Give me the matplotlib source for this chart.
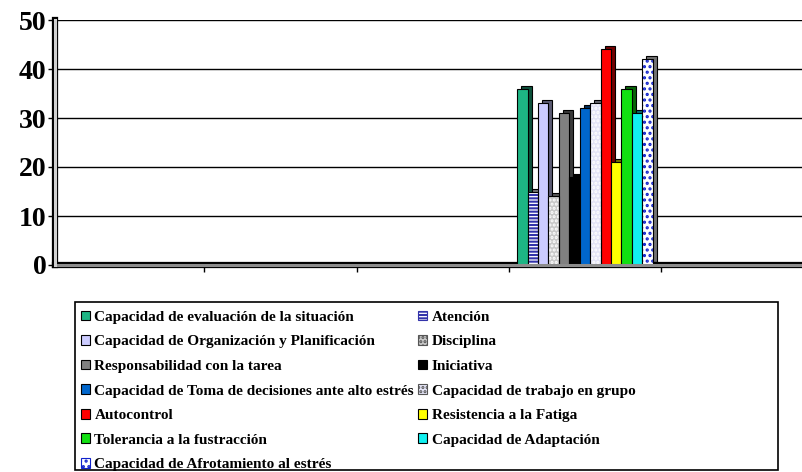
import numpy as np
import matplotlib
matplotlib.use("Agg")
import matplotlib.pyplot as plt
import matplotlib.colors as mcolors
from matplotlib.patches import Patch, Rectangle
from matplotlib.transforms import ScaledTranslation

# datos
etiquetas = [
    "Capacidad de evaluación de la situación",
    "Atención",
    "Capacidad de Organización y Planificación",
    "Disciplina",
    "Responsabilidad con la tarea",
    "Iniciativa",
    "Capacidad de Toma de decisiones ante alto estrés",
    "Capacidad de trabajo en grupo",
    "Autocontrol",
    "Resistencia a la Fatiga",
    "Tolerancia a la fustracción",
    "Capacidad de Adaptación",
    "Capacidad de Afrotamiento al estrés",
]
valores = [36, 15, 33, 14, 31, 18, 32, 33, 44, 21, 36, 31, 42]
categorias = [1, 2, 3, 4, 5]
cat_con_datos = 3  # solo la cuarta categoría tiene barras

colores = ["#1DB584", "#FFFFFF", "#CCCCFF", "#C8C8C8", "#808080", "#000000",
           "#0066CC", "#E4E4F6", "#FF0000", "#FFFF00", "#11E011", "#11F0F0",
           "#FFFFFF"]
tramas = [None, "-----", None, "....", None, None, None, "....", None, None,
          None, None, "..."]
color_trama = [None, "#3333AA", None, "#FFFFFF", None, None, None, "#FFFFFF",
               None, None, None, None, "#1122CC"]

plt.rcParams["font.family"] = ["Liberation Serif", "DejaVu Serif"]
plt.rcParams["font.weight"] = "bold"
plt.rcParams["hatch.linewidth"] = 1.5

fig = plt.figure(figsize=(8.02, 4.72), dpi=100)
ax = fig.add_axes([55 / 802, 207 / 472, 747 / 802, 245 / 472])

n = len(valores)
ancho = 0.0685
x = cat_con_datos + (np.arange(n) - (n - 1) / 2) * ancho

# efecto 3D: cara lateral desplazada
desp = ax.transData + ScaledTranslation(4 / 100, 3 / 100, fig.dpi_scale_trans)
for i in range(n):
    c = np.array(mcolors.to_rgb(colores[i])) * 0.45
    ax.bar(x[i], valores[i], width=ancho, color=c, edgecolor="black",
           linewidth=0.8, transform=desp, zorder=2)

for i in range(n):
    if tramas[i]:
        ax.bar(x[i], valores[i], width=ancho, color=colores[i],
               hatch=tramas[i], edgecolor=color_trama[i], linewidth=0,
               zorder=3)
        ax.bar(x[i], valores[i], width=ancho, fill=False, edgecolor="black",
               linewidth=0.8, zorder=4)
    else:
        ax.bar(x[i], valores[i], width=ancho, color=colores[i],
               edgecolor="black", linewidth=0.8, zorder=3)

ax.set_ylim(0, 50)
ax.set_yticks(range(0, 51, 10))
ax.set_xlim(-0.48, 4.425)
ax.set_xticks([i + 0.5 for i in range(len(categorias) - 1)])
ax.set_xticklabels([])
ax.tick_params(axis="x", direction="out", length=5, width=1)
ax.tick_params(axis="y", direction="out", length=5, width=1, labelsize=20,
               pad=1)
for t in ax.get_yticklabels():
    t.set_fontweight("bold")
ax.yaxis.grid(True, color="black", linewidth=1)
ax.set_axisbelow(True)
ax.spines["top"].set_visible(False)
ax.spines["right"].set_visible(False)
# paredes tipo 3D: línea doble negra / gris
for lado in ["left", "bottom"]:
    ax.spines[lado].set_color("black")
    ax.spines[lado].set_linewidth(4.5)
ax.axhline(0, color="#8C8C8C", linewidth=2.2, clip_on=False, zorder=5)
ax.axvline(ax.get_xlim()[0], color="#D0D0D0", linewidth=2.2, clip_on=False,
           zorder=5)

# leyenda en dos columnas, llenado por filas
handles = []
for i in range(n):
    if tramas[i]:
        handles.append(Patch(facecolor=colores[i], hatch=tramas[i],
                             edgecolor=color_trama[i] if tramas[i] != "...." else "#555555",
                             linewidth=0.8))
    else:
        handles.append(Patch(facecolor=colores[i], edgecolor="black",
                             linewidth=0.8))
orden = list(range(0, n, 2)) + list(range(1, n, 2))
leg = fig.legend([handles[i] for i in orden], [etiquetas[i] for i in orden],
                 ncol=2, loc="upper left",
                 bbox_to_anchor=(70 / 802, 1 - 300 / 472),
                 frameon=False, fontsize=11, handlelength=0.6,
                 handleheight=0.6, handletextpad=0.3, labelspacing=0.74,
                 columnspacing=0.25, borderpad=0.2)
for t in leg.get_texts():
    t.set_fontweight("bold")

fig.patches.append(Rectangle((75 / 802, 2 / 472), 703 / 802, 168 / 472,
                             transform=fig.transFigure, fill=False,
                             edgecolor="black", linewidth=1.2))

fig.savefig("out.png", dpi=100)
